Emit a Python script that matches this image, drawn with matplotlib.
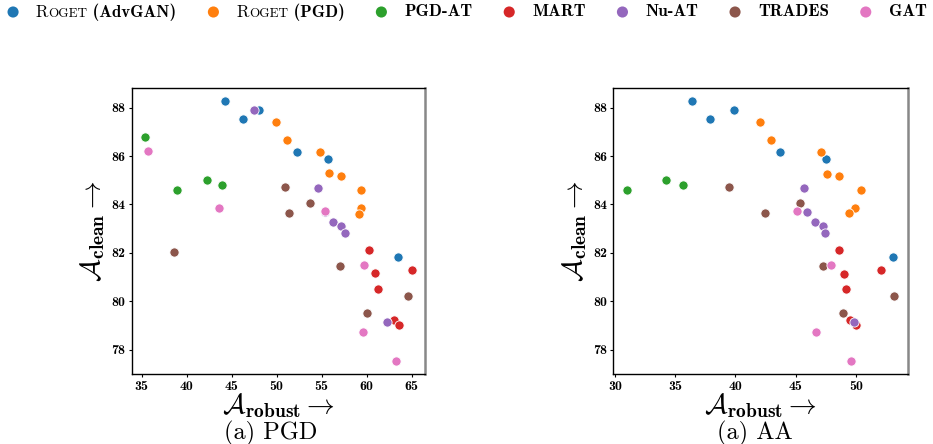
import matplotlib
matplotlib.use("Agg")
import matplotlib.pyplot as plt
from matplotlib.offsetbox import HPacker, TextArea, DrawingArea, AnchoredOffsetbox
from matplotlib.patches import Circle

plt.rcParams['mathtext.fontset'] = 'cm'
plt.rcParams['axes.unicode_minus'] = False

methods = ["Roget (AdvGAN)", "Roget (PGD)", "PGD-AT", "MART", "Nu-AT", "TRADES", "GAT"]
colors = ["#1f77b4", "#ff7f0e", "#2ca02c", "#d62728", "#9467bd", "#8c564b", "#e377c2"]

# PGD panel: (robust accuracy, clean accuracy)
pgd_advgan_x = [44.24, 46.27, 48.0, 52.29, 55.69, 63.53]
pgd_advgan_y = [88.26, 87.52, 87.88, 86.17, 85.87, 81.82]
pgd_pgd_x = [49.93, 51.15, 54.81, 55.77, 57.10, 59.32, 59.39, 59.2]
pgd_pgd_y = [87.42, 86.65, 86.17, 85.28, 85.18, 84.59, 83.85, 83.62]
pgd_pgdat_x = [35.37, 38.88, 42.28, 43.87]
pgd_pgdat_y = [86.79, 84.58, 84.99, 84.79]
pgd_mart_x = [60.24, 60.9, 61.27, 65.0, 63.09, 63.64]
pgd_mart_y = [82.12, 81.15, 80.49, 81.30, 79.21, 79.04]
pgd_nuat_x = [47.49, 54.59, 55.38, 56.21, 57.14, 57.58, 62.24]
pgd_nuat_y = [87.90, 84.68, 83.68, 83.27, 83.12, 82.84, 79.14]
pgd_trades_x = [50.96, 51.41, 53.74, 38.55, 56.99, 60.02, 64.64]
pgd_trades_y = [84.70, 83.63, 84.04, 82.04, 81.46, 79.51, 80.23]
pgd_gat_x = [35.70, 43.57, 55.33, 59.69, 59.61, 63.23]
pgd_gat_y = [86.20, 83.87, 83.72, 81.49, 78.72, 77.52]

# AA panel
aa_advgan_x = [36.43, 37.89, 39.89, 43.68, 47.53, 53.07]
aa_advgan_y = [88.26, 87.52, 87.88, 86.17, 85.87, 81.82]
aa_pgd_x = [42.05, 42.94, 47.09, 47.56, 48.56, 50.44, 49.92, 49.45]
aa_pgd_y = [87.42, 86.65, 86.17, 85.25, 85.18, 84.59, 83.85, 83.65]
aa_pgdat_x = [30.97, 34.27, 35.65]
aa_pgdat_y = [84.58, 84.99, 84.79]
aa_mart_x = [48.59, 49.03, 49.17, 52.05, 49.47, 50.03]
aa_mart_y = [82.12, 81.13, 80.49, 81.30, 79.21, 79.04]
aa_nuat_x = [45.68, 45.90, 46.59, 47.29, 47.42, 49.86]
aa_nuat_y = [84.68, 83.69, 83.29, 83.12, 82.84, 79.14]
aa_trades_x = [39.5, 42.47, 45.32, 47.31, 48.95, 53.19]
aa_trades_y = [84.72, 83.65, 84.04, 81.46, 79.51, 80.23]
aa_gat_x = [45.1, 47.9, 46.68, 49.58]
aa_gat_y = [83.73, 81.49, 78.72, 77.52]

pgd_series = [(pgd_advgan_x, pgd_advgan_y), (pgd_pgd_x, pgd_pgd_y), (pgd_pgdat_x, pgd_pgdat_y),
              (pgd_mart_x, pgd_mart_y), (pgd_nuat_x, pgd_nuat_y), (pgd_trades_x, pgd_trades_y),
              (pgd_gat_x, pgd_gat_y)]
aa_series = [(aa_advgan_x, aa_advgan_y), (aa_pgd_x, aa_pgd_y), (aa_pgdat_x, aa_pgdat_y),
             (aa_mart_x, aa_mart_y), (aa_nuat_x, aa_nuat_y), (aa_trades_x, aa_trades_y),
             (aa_gat_x, aa_gat_y)]

pgd_xticks = [35, 40, 45, 50, 55, 60, 65]
aa_xticks = [30, 35, 40, 45, 50]
yticks = [78, 80, 82, 84, 86, 88]
captions = ["(a) PGD", "(a) AA"]

fig = plt.figure(figsize=(9.33, 4.44), dpi=100)
W, H = 933, 444
ax1 = fig.add_axes([131.7 / W, (H - 374.3) / H, 293.3 / W, 286 / H])
ax2 = fig.add_axes([613.3 / W, (H - 374.3) / H, 294.4 / W, 286 / H])

for ax, series, xt, cap, capx in [(ax1, pgd_series, pgd_xticks, captions[0], 271),
                                   (ax2, aa_series, aa_xticks, captions[1], 755)]:
    for (xs, ys), c in zip(series, colors):
        ax.scatter(xs, ys, s=44, color=c, edgecolors='white', linewidths=0.6, zorder=3)
    ax.set_xticks(xt)
    ax.set_yticks(yticks)
    for lab in ax.get_xticklabels() + ax.get_yticklabels():
        lab.set_fontfamily('cmb10')
        lab.set_fontsize(10)
    ax.tick_params(length=2.5, width=0.8, pad=2, colors='black')
    for s in ['left', 'bottom', 'top']:
        ax.spines[s].set_color('black')
        ax.spines[s].set_linewidth(1.0)
    ax.spines['right'].set_color('#888888')
    ax.spines['right'].set_linewidth(1.8)
    ax.set_xlabel(r'$\mathcal{A}_{\mathbf{robust}}\rightarrow$', fontsize=20, labelpad=-1)
    ax.set_ylabel(r'$\mathcal{A}_{\mathbf{clean}}\rightarrow$', fontsize=20, labelpad=3)
    fig.text(capx / W, 1 - 433 / H, cap, ha='center', va='center', fontsize=17.5, family='cmr10')

# Legend with small-caps "Roget"
LS = 12.2
entries = []
for name, c in zip(methods, colors):
    da = DrawingArea(8, 8, 0, 0)
    da.add_artist(Circle((4, 4), 4.0, fc=c, ec='none'))
    if name.startswith("Roget"):
        rest = name[len("Roget"):]
        word = HPacker(children=[
            TextArea("R", textprops=dict(family='cmr10', size=LS)),
            TextArea("OGET", textprops=dict(family='cmr10', size=LS * 0.78)),
            TextArea(rest, textprops=dict(family='cmb10', size=LS)),
        ], sep=0, align='baseline', pad=0)
        parts = [da, word]
    else:
        parts = [da, TextArea(name, textprops=dict(family='cmb10', size=LS))]
    entries.append(HPacker(children=parts, sep=12.5, align='center', pad=0))

legend_box = HPacker(children=entries, sep=22.5, align='center', pad=0)
anchored = AnchoredOffsetbox(loc='center left', child=legend_box, pad=0, frameon=False,
                             bbox_to_anchor=(7.5 / W, 1 - 12 / H), bbox_transform=fig.transFigure,
                             borderpad=0)
fig.add_artist(anchored)

fig.savefig("out.png", dpi=100)
